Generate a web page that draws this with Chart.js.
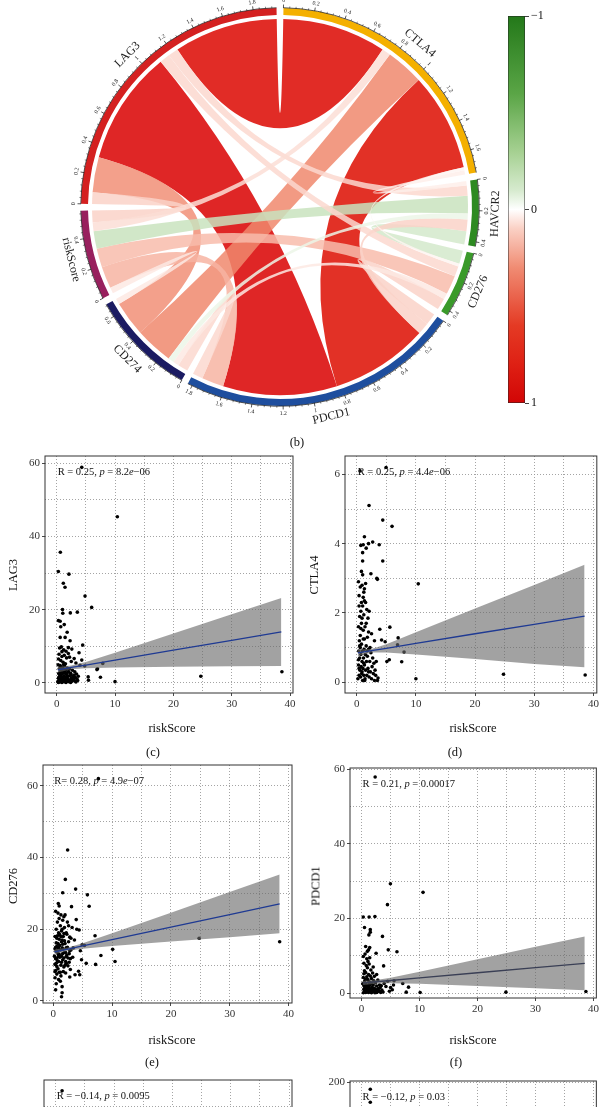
<!DOCTYPE html>
<html>
<head>
<meta charset="utf-8">
<script src="https://cdn.jsdelivr.net/npm/chart.js@4.4.0/dist/chart.umd.min.js"></script>
<style>
html, body { margin: 0; padding: 0; background: #fff; overflow: hidden; width: 601px; height: 1107px; }
body { position: relative; }
canvas { position: absolute; }
.t { position: absolute; font-family: "Liberation Serif", serif; font-size: 12.5px; color: #111; white-space: nowrap; transform: translate(-50%, -50%); }
</style>
</head>
<body>
<canvas id="chord" width="601" height="425" style="left:0px;top:0px"></canvas>
<canvas id="colorbar" width="80" height="420" style="left:490px;top:0px"></canvas>
<script>
Chart.defaults.font.family = '"Liberation Serif", "DejaVu Serif", serif';
Chart.defaults.color = "#333";

// ---------- chord diagram (correlations) ----------
const genes = ["CTLA4", "HAVCR2", "CD276", "PDCD1", "CD274", "riskScore", "LAG3"];
const geneColors = ["#F4B000", "#2E8A22", "#3A9A2A", "#1E4E9E", "#1B1B62", "#98205E", "#D42020"];
const linkFrom = ["LAG3", "LAG3", "CTLA4", "CTLA4", "LAG3", "LAG3", "LAG3", "LAG3", "CTLA4", "CTLA4", "CTLA4",
  "PDCD1", "PDCD1", "PDCD1", "PDCD1", "HAVCR2", "HAVCR2", "HAVCR2", "CD276", "CD276", "CD274"];
const linkTo = ["CTLA4", "PDCD1", "PDCD1", "CD274", "CD274", "riskScore", "HAVCR2", "CD276", "riskScore", "HAVCR2", "CD276",
  "CD274", "riskScore", "HAVCR2", "CD276", "riskScore", "CD276", "CD274", "riskScore", "CD274", "riskScore"];
const linkR = [0.71, 0.78, 0.67, 0.26, 0.24, 0.08, 0.07, 0.07, 0.06, 0.03, 0.02,
  0.07, 0.15, 0.08, 0.08, -0.12, -0.09, -0.04, 0.13, 0.04, 0.04];
const chordTickValues = [0, 0.2, 0.4, 0.6, 0.8, 1, 1.2, 1.4, 1.6, 1.8];
const colorbarTicks = [-1, 0, 1];

// ---------- scatter panels ----------
const xGridValues = [0, 5, 10, 15, 20, 25, 30, 35, 40];
const xLabelValues = [0, 10, 20, 30, 40];
const fitX = [0.2, 2.5, 5, 10, 20, 30, 38.5];

const lag3Points = [[4.3,58.9],[10.4,45.4],[0.63,35.7],[0.29,30.4],[2.1,29.7],[1.14,27.2],[1.43,26.1],[4.86,23.7],[6.0,20.6],[1.0,20.0],[1.05,19.0],[2.34,19.1],[3.54,19.3],[0.3,17.0],[0.6,16.8],[1.3,15.9],[0.7,15.3],[0.6,12.4],[1.45,12.4],[1.8,13.8],[2.3,11.5],[4.46,10.3],[3.83,8.2],[4.3,6.2],[4.0,4.8],[4.8,4.6],[7.0,3.8],[6.9,3.6],[7.9,5.3],[7.5,1.5],[5.4,1.6],[5.45,0.7],[10.0,0.3],[24.7,1.8],[38.6,3.0],
  [0.5,9.5],[0.8,9.8],[1.2,9.0],[1.6,8.6],[2.0,9.6],[2.6,9.2],[0.4,7.8],[0.9,7.2],[1.3,7.5],[1.7,6.8],[2.2,7.0],[3.0,6.6],[0.3,6.5],[0.7,6.1],[1.1,5.6],[1.5,5.2],[2.5,5.8],[3.3,5.4],[0.9,8.5],[2.0,8.0],
  [0.2,0.3],[0.3,1.2],[0.35,2.5],[0.4,0.6],[0.45,3.8],[0.5,1.8],[0.55,0.2],[0.6,2.9],[0.65,4.4],[0.7,1.0],[0.75,0.4],[0.8,2.2],[0.85,3.4],[0.9,0.8],[0.95,1.5],[1.0,4.1],[1.05,0.3],[1.1,2.6],[1.15,1.1],[1.2,3.2],[1.25,0.6],[1.3,1.9],[1.35,4.6],[1.4,0.9],[1.45,2.8],[1.5,0.2],[1.55,1.4],[1.6,3.6],[1.65,0.7],[1.7,2.3],[1.75,1.1],[1.8,4.0],[1.85,0.4],[1.9,1.7],[2.0,0.9],[2.05,3.0],[2.1,0.3],[2.2,1.9],[2.3,0.6],[2.4,2.6],[2.5,1.2],[2.6,0.4],[2.7,3.4],[2.8,1.6],[2.9,0.8],[3.0,2.1],[3.1,0.5],[3.2,1.4],[3.3,0.2],[3.4,2.4],[3.5,1.0],[3.6,0.6],[3.7,1.8],[0.25,4.9],[0.6,4.7],[1.2,4.9],[0.3,0.1],[0.9,0.1],[1.6,0.1],[2.4,0.1],
  [0.4,1.5],[0.7,3.0],[1.0,1.3],[1.3,3.6],[1.7,1.5],[2.2,3.8],[2.7,0.9],[3.1,3.0],[0.5,2.6],[1.1,0.6],[1.9,2.9],[2.5,2.1]];
const lag3Fit = [3.55, 4.2, 4.85, 6.2, 8.9, 11.6, 13.9];
const lag3Upper = [4.3, 4.7, 5.7, 8.2, 13.45, 18.7, 23.2];
const lag3Lower = [2.8, 3.7, 4.0, 4.2, 4.35, 4.5, 4.6];

const ctla4Points = [[4.96,6.2],[0.56,6.1],[2.08,5.1],[4.4,4.68],[5.97,4.5],[1.3,4.2],[0.7,3.95],[1.1,3.97],[2.0,4.0],[2.7,4.05],[3.8,3.97],[1.0,3.74],[1.6,3.87],[1.0,3.5],[4.4,3.5],[2.4,3.13],[3.4,3.0],[3.5,2.97],[10.4,2.84],[3.9,1.53],[5.6,1.59],[7.0,1.28],[6.9,1.08],[8.0,0.87],[4.2,1.22],[4.8,1.17],[7.6,0.59],[5.1,0.6],[5.5,0.65],[10.0,0.1],[24.8,0.23],[38.6,0.21],[3.5,0.05],[3.6,0.12],
  [0.3,2.9],[0.6,2.75],[0.9,2.8],[1.2,2.6],[1.5,2.85],[0.4,2.5],[0.8,2.3],[1.0,2.2],[1.3,2.35],[1.7,2.1],[2.1,2.05],[0.5,1.9],[0.9,1.85],[1.2,1.95],[1.6,1.7],[0.3,1.6],[0.7,1.55],[1.1,1.5],[1.4,1.6],[2.0,1.45],[2.5,1.4],[0.6,1.35],[1.8,1.3],[3.0,1.2],[1.3,2.7],[1.0,3.1],[0.8,3.2],
  [0.2,0.1],[0.3,0.5],[0.35,0.9],[0.4,0.2],[0.45,1.2],[0.5,0.7],[0.55,0.35],[0.6,1.0],[0.65,0.15],[0.7,0.8],[0.75,0.45],[0.8,1.1],[0.85,0.25],[0.9,0.6],[0.95,0.9],[1.0,0.05],[1.05,0.4],[1.1,1.25],[1.15,0.7],[1.2,0.2],[1.25,0.95],[1.3,0.5],[1.4,0.1],[1.45,0.8],[1.5,0.35],[1.6,1.05],[1.65,0.6],[1.7,0.2],[1.8,0.75],[1.9,0.4],[2.0,0.95],[2.1,0.15],[2.2,0.6],[2.3,0.3],[2.4,0.85],[2.5,0.1],[2.6,0.45],[2.7,0.7],[2.8,0.25],[2.9,0.55],[3.0,0.05],[3.1,0.35],[3.2,0.2],[3.3,0.6],[0.3,0.65],[0.5,1.05],[0.9,0.3],[1.35,0.05],[2.25,1.0],[1.75,0.9],
  [0.4,2.2],[0.7,2.05],[1.1,2.45],[1.5,2.3],[0.8,1.7],[1.3,1.25],[1.9,1.85],[0.4,0.4],[1.2,0.55],[2.0,0.3]];
const ctla4Fit = [0.85, 0.91, 0.98, 1.12, 1.40, 1.67, 1.91];
const ctla4Upper = [0.95, 0.96, 1.10, 1.44, 2.13, 2.81, 3.39];
const ctla4Lower = [0.75, 0.86, 0.86, 0.80, 0.67, 0.53, 0.43];

const cd276Points = [[7.67,62],[2.44,42.1],[2.05,33.9],[3.8,31.2],[1.6,30.2],[5.8,29.6],[6.1,26.4],[0.85,27.2],[3.1,26.3],[3.9,22.7],[7.1,18.2],[24.8,17.5],[38.5,16.5],[8.1,12.7],[10.1,14.4],[10.5,11.0],[7.2,10.2],[5.6,10.5],[4.3,8.3],[4.5,7.3],[3.7,7.3],[2.8,6.7],[1.5,4.0],[0.4,3.1],[1.5,2.3],[1.4,1.2],[0.5,4.8],[4.6,14],[4.4,19.8],[4.0,20.0],[4.9,15.7],[5.3,15.5],[3.6,17],[3.4,14.8],[4.8,11.5],
  [0.3,6.5],[0.4,8.5],[0.5,10.5],[0.6,12],[0.7,14],[0.8,9],[0.9,11],[1.0,13],[1.1,15.5],[1.2,8],[1.3,10],[1.4,12.5],[1.5,17],[1.6,11.5],[1.7,14.5],[1.8,9.5],[1.9,13.5],[2.0,16],[2.1,11],[2.2,19],[2.3,12.8],[2.4,15],[2.5,9.8],[2.6,21],[2.7,13.2],[2.8,17.8],[2.9,11.8],[3.0,14.2],[3.2,20.5],[0.3,18],[0.4,15],[0.5,20],[0.6,17.5],[0.7,22],[0.8,24.5],[0.9,19],[1.0,23],[1.1,18.5],[1.2,21],[1.3,24],[1.4,16.5],[1.5,20],[1.6,22.5],[1.7,18],[1.8,23.5],[1.9,20.5],[2.0,24],[2.1,13.5],[2.2,10.5],[2.4,22],[2.6,16.5],[2.8,14],
  [0.2,12.5],[0.3,10.2],[0.5,13.8],[0.6,7.5],[0.7,11.2],[0.9,6.0],[1.1,12.2],[1.3,7.0],[1.5,14.8],[1.7,8.2],[1.9,16.8],[2.1,7.8],[2.3,18.6],[2.5,12],[0.4,25],[1.0,26.5],[1.2,5.5],[0.8,16],[0.6,9.6],[1.4,19.5],[1.8,12],[2.0,10],[2.2,14.8],[2.7,10.8],[3.0,17.5],[3.3,12.2],[0.3,14.5],[0.5,16.2],[0.9,14.8],[1.6,13.2],[2.9,8.8],[1.0,8.0],[0.7,18.2],
  [0.4,11.8],[0.8,13.2],[1.2,14.2],[1.6,15.8],[0.6,15.2],[1.0,17.2],[1.4,10.8],[1.8,18.8],[2.2,12.4],[0.3,8.2],[0.9,12.6],[1.3,18.0]];
const cd276Fit = [13.67, 14.48, 15.35, 17.1, 20.6, 24.1, 27.1];
const cd276Upper = [14.33, 14.94, 16.1, 18.9, 24.6, 30.4, 35.3];
const cd276Lower = [13.0, 14.02, 14.6, 15.3, 16.6, 17.8, 18.9];

const pdcd1Points = [[2.34,57.9],[4.97,29.3],[10.6,27.0],[4.46,23.7],[0.29,20.4],[1.3,20.4],[2.3,20.5],[0.5,17.6],[1.5,17.0],[1.5,16.3],[1.26,15.6],[3.6,15.2],[1.4,12.2],[1.2,11.6],[2.5,10.7],[4.6,11.6],[6.1,11.1],[3.8,7.3],[7.1,2.6],[8.1,1.6],[7.7,0.27],[10.1,0.18],[24.9,0.27],[38.7,0.45],[5.5,2.2],[5.0,1.5],[4.2,1.8],[4.8,0.5],[5.3,0.9],[3.9,2.6],[4.5,3.2],[5.6,3.3],
  [0.3,9.8],[0.6,10.5],[0.9,9.2],[1.1,8.5],[0.4,8.0],[0.8,7.4],[1.0,6.8],[1.3,7.8],[1.6,6.2],[2.0,7.0],[0.5,6.0],[0.7,5.5],[1.2,5.0],[1.5,4.6],[1.9,5.4],[2.2,4.5],[2.6,5.0],[0.3,4.2],[0.6,3.8],[0.9,4.4],[1.1,3.5],[1.4,3.0],[1.7,3.9],[2.1,3.3],[2.4,2.8],[2.8,3.5],[3.1,2.2],[0.2,2.5],[0.4,2.0],[0.5,1.2],[0.6,0.5],[0.7,2.6],[0.8,1.5],[0.9,0.3],[1.0,2.0],[1.1,1.0],[1.2,0.2],[1.3,1.7],[1.4,0.6],[1.5,2.3],[1.6,1.1],[1.7,0.1],[1.8,1.6],[1.9,0.7],[2.0,2.2],[2.1,0.4],[2.2,1.3],[2.3,0.1],[2.5,0.9],[2.6,1.9],[2.7,0.3],[2.9,1.2],[3.0,0.5],[3.2,1.5],[3.3,0.2],[3.5,0.8],[3.7,0.3],[0.3,0.1],[0.5,3.1],[0.8,0.9],[1.0,3.7],[1.3,0.4],[1.8,2.7],[2.4,0.6],[0.4,5.2],[1.4,9.5],[1.0,11.2],[0.7,12.5],[2.8,1.0],[3.4,2.0],[1.2,1.3],[0.6,1.8],
  [0.4,1.0],[0.7,0.2],[1.0,0.6],[1.3,2.5],[1.6,0.4],[1.9,1.3],[2.2,0.7],[2.6,0.2],[0.5,0.3],[1.1,1.8]];
const pdcd1Fit = [2.73, 3.05, 3.39, 4.08, 5.46, 6.84, 8.0];
const pdcd1Upper = [3.25, 3.55, 4.15, 5.7, 9.1, 12.4, 15.2];
const pdcd1Lower = [2.2, 2.55, 2.63, 2.5, 1.9, 1.3, 0.8];

const cd274Points = [[1.1,75.3],[0.6,28],[1.4,19],[0.9,11],[2.2,7],[0.5,4],[1.8,2]];
const havcr2Points = [[1.5,193.4],[1.5,181.5],[0.8,120],[2.1,80],[0.6,40],[1.2,20],[3.0,10]];

const corrLabels = ["R = 0.25, p = 8.2e\u221206", "R = 0.25, p = 4.4e\u221206", "R= 0.28, p = 4.9e\u221207",
  "R = 0.21, p = 0.00017", "R = \u22120.14, p = 0.0095", "R = \u22120.12, p = 0.03"];
const panelGenes = ["LAG3", "CTLA4", "CD276", "PDCD1", "", ""];
const panelCaptions = ["(c)", "(d)", "(e)", "(f)", "", ""];

// ---------- colours ----------
const posStops = [[0, [255,255,255]], [0.1, [250,208,196]], [0.3, [240,140,115]], [0.6, [228,58,36]], [0.8, [222,32,20]], [1, [210,5,5]]];
const negStops = [[0, [255,255,255]], [0.1, [214,234,206]], [0.3, [165,208,145]], [0.6, [90,165,70]], [1, [35,120,25]]];

function corrRGB(r) {
  const stops = r >= 0 ? posStops : negStops;
  const t = Math.min(1, Math.abs(r));
  for (let i = 1; i < stops.length; i++) {
    if (t <= stops[i][0]) {
      const [t0, c0] = stops[i - 1], [t1, c1] = stops[i];
      const f = (t - t0) / (t1 - t0);
      return c0.map((c, j) => Math.round(c + (c1[j] - c) * f));
    }
  }
  return stops[stops.length - 1][1];
}

function chordFill(r, alpha) {
  // pre-compensate so the translucent ribbon looks like corrRGB on white
  const c = corrRGB(r).map(v => Math.max(0, Math.min(255, Math.round((v - (1 - alpha) * 255) / alpha))));
  return `rgba(${c[0]},${c[1]},${c[2]},${alpha})`;
}

// ---------- chord layout ----------
const n = genes.length;
const sectorSize = genes.map(g => {
  let s = 0;
  linkR.forEach((r, i) => { if (linkFrom[i] === g || linkTo[i] === g) s += Math.abs(r); });
  return s;
});
const totalSize = sectorSize.reduce((a, b) => a + b, 0);
const gapDeg = 2;
const gapValue = totalSize * gapDeg / (360 - n * gapDeg);
const ringData = [];
const ringColors = [];
genes.forEach((g, k) => {
  ringData.push(sectorSize[k], gapValue);
  ringColors.push(geneColors[k], "rgba(0,0,0,0)");
});

const linkEnds = linkR.map(() => ({}));
genes.forEach((g, k) => {
  const mine = [];
  linkR.forEach((r, i) => {
    const a = genes.indexOf(linkFrom[i]), b = genes.indexOf(linkTo[i]);
    if (a === k) mine.push({ i, other: b });
    else if (b === k) mine.push({ i, other: a });
  });
  mine.sort((p, q) => ((k - p.other + n) % n) - ((k - q.other + n) % n));
  let pos = 0;
  mine.forEach(m => {
    const w = Math.abs(linkR[m.i]);
    linkEnds[m.i][k] = [pos, pos + w];
    pos += w;
  });
});

function tangentText(ctx, text, cx, cy, r, ang) {
  const x = cx + r * Math.cos(ang), y = cy + r * Math.sin(ang);
  let rot = ang + Math.PI / 2;
  rot = ((rot % (2 * Math.PI)) + 2 * Math.PI) % (2 * Math.PI);
  if (rot > Math.PI / 2 && rot < 3 * Math.PI / 2) rot -= Math.PI;
  ctx.save();
  ctx.translate(x, y);
  ctx.rotate(rot);
  ctx.textAlign = "center";
  ctx.textBaseline = "middle";
  ctx.fillText(text, 0, 0);
  ctx.restore();
}

const chordPlugin = {
  id: "chords",
  afterDatasetsDraw(chart) {
    const ctx = chart.ctx;
    const arcs = chart.getDatasetMeta(0).data;
    const cx = arcs[0].x, cy = arcs[0].y;
    const R = arcs[0].outerRadius, rc = arcs[0].innerRadius - 4;
    const angleAt = (k, v) => {
      const a = arcs[2 * k];
      return a.startAngle + v / sectorSize[k] * (a.endAngle - a.startAngle);
    };

    // ribbons, widest first
    const order = linkR.map((r, i) => i).sort((p, q) => Math.abs(linkR[q]) - Math.abs(linkR[p]));
    order.forEach(i => {
      const a = genes.indexOf(linkFrom[i]), b = genes.indexOf(linkTo[i]);
      const a1 = angleAt(a, linkEnds[i][a][0]), a2 = angleAt(a, linkEnds[i][a][1]);
      const b1 = angleAt(b, linkEnds[i][b][0]), b2 = angleAt(b, linkEnds[i][b][1]);
      ctx.save();
      ctx.fillStyle = chordFill(linkR[i], 0.85);
      ctx.beginPath();
      ctx.arc(cx, cy, rc, a1, a2);
      ctx.quadraticCurveTo(cx, cy, cx + rc * Math.cos(b1), cy + rc * Math.sin(b1));
      ctx.arc(cx, cy, rc, b1, b2);
      ctx.quadraticCurveTo(cx, cy, cx + rc * Math.cos(a1), cy + rc * Math.sin(a1));
      ctx.closePath();
      ctx.fill();
      ctx.restore();
    });

    // axes around each sector
    ctx.save();
    ctx.strokeStyle = "#111";
    ctx.fillStyle = "#222";
    genes.forEach((g, k) => {
      const a = arcs[2 * k];
      ctx.lineWidth = 0.7;
      ctx.beginPath();
      ctx.arc(cx, cy, R + 0.3, a.startAngle, a.endAngle);
      ctx.stroke();
      const majors = chordTickValues.filter(v => v <= sectorSize[k] + 1e-9);
      // minor ticks: four between majors
      ctx.lineWidth = 0.5;
      for (let m = 0; m < majors.length; m++) {
        for (let s = 1; s < 5; s++) {
          const v = majors[m] + s * 0.04;
          if (v > sectorSize[k]) break;
          const an = angleAt(k, v);
          ctx.beginPath();
          ctx.moveTo(cx + R * Math.cos(an), cy + R * Math.sin(an));
          ctx.lineTo(cx + (R + 1.8) * Math.cos(an), cy + (R + 1.8) * Math.sin(an));
          ctx.stroke();
        }
      }
      ctx.lineWidth = 0.7;
      ctx.font = '5.8px "Liberation Serif", serif';
      majors.forEach(v => {
        const an = angleAt(k, v);
        ctx.beginPath();
        ctx.moveTo(cx + R * Math.cos(an), cy + R * Math.sin(an));
        ctx.lineTo(cx + (R + 3.5) * Math.cos(an), cy + (R + 3.5) * Math.sin(an));
        ctx.stroke();
        tangentText(ctx, String(v), cx, cy, R + 7.5, an);
      });
      ctx.font = '12px "Liberation Serif", serif';
      tangentText(ctx, g, cx, cy, R + 16.5, (a.startAngle + a.endAngle) / 2);
    });
    ctx.restore();
  }
};

new Chart(document.getElementById("chord"), {
  type: "doughnut",
  data: {
    labels: ringData.map((v, i) => i % 2 ? "" : genes[i / 2]),
    datasets: [{ data: ringData, backgroundColor: ringColors, borderWidth: 0, hoverOffset: 0 }]
  },
  options: {
    responsive: false,
    animation: false,
    events: [],
    rotation: gapDeg / 2,
    radius: 199,
    cutout: (192 / 199 * 100) + "%",
    layout: { padding: { left: 81, right: 122, top: 8, bottom: 19 } },
    plugins: { legend: { display: false }, tooltip: { enabled: false } }
  },
  plugins: [chordPlugin]
});

// ---------- colour bar ----------
new Chart(document.getElementById("colorbar"), {
  type: "bar",
  data: {
    labels: [""],
    datasets: [{
      data: [[-1, 1]],
      backgroundColor: (c) => {
        const area = c.chart.chartArea;
        if (!area) return "#ccc";
        const g = c.chart.ctx.createLinearGradient(0, area.top, 0, area.bottom);
        for (let s = 0; s <= 40; s++) {
          const r = -1 + s / 20;
          const rgb = corrRGB(r);
          g.addColorStop(s / 40, `rgb(${rgb[0]},${rgb[1]},${rgb[2]})`);
        }
        return g;
      },
      borderColor: "#222",
      borderWidth: 0.8,
      borderSkipped: false,
      barPercentage: 1,
      categoryPercentage: 1
    }]
  },
  options: {
    responsive: false,
    animation: false,
    events: [],
    layout: { padding: { left: 18, right: 0, top: 16, bottom: 17 } },
    plugins: { legend: { display: false }, tooltip: { enabled: false } },
    scales: {
      x: { display: false },
      y: {
        position: "right",
        min: -1, max: 1, reverse: true,
        afterBuildTicks: (axis) => { axis.ticks = colorbarTicks.map(v => ({ value: v })); },
        afterFit: (axis) => { axis.width = 45; },
        ticks: { padding: 2, color: "#111", font: { size: 12 }, callback: (v) => v < 0 ? "\u2212" + (-v) : String(v) },
        grid: { drawOnChartArea: false, tickLength: 4, color: "#111", lineWidth: 0.8 },
        border: { display: false }
      }
    }
  }
});

// ---------- text helpers ----------
function addText(txt, x, y, rotate, size) {
  const d = document.createElement("div");
  d.className = "t";
  d.textContent = txt;
  d.style.left = x + "px";
  d.style.top = y + "px";
  if (size) d.style.fontSize = size + "px";
  if (rotate) d.style.transform = "translate(-50%, -50%) rotate(-90deg)";
  document.body.appendChild(d);
}

function drawCorrLabel(ctx, text, x, y) {
  // italic p and e, as in the ggpubr label
  const parts = [];
  for (let i = 0; i < text.length; i++) {
    const ch = text[i];
    const italic = (ch === "p" && text[i - 1] === " ") || (ch === "e" && /[0-9]/.test(text[i - 1] || ""));
    if (parts.length && parts[parts.length - 1].italic === italic) parts[parts.length - 1].s += ch;
    else parts.push({ s: ch, italic });
  }
  ctx.save();
  ctx.fillStyle = "#111";
  ctx.textBaseline = "middle";
  ctx.textAlign = "left";
  parts.forEach(p => {
    ctx.font = (p.italic ? "italic " : "") + '10.5px "Liberation Serif", serif';
    ctx.fillText(p.s, x, y);
    x += ctx.measureText(p.s).width;
  });
  ctx.restore();
}

const panelPlugin = {
  id: "panelBox",
  afterDatasetsDraw(chart, args, opts) {
    const { ctx, chartArea: a } = chart;
    ctx.save();
    ctx.strokeStyle = "#333";
    ctx.lineWidth = 1;
    ctx.strokeRect(a.left, a.top, a.right - a.left, a.bottom - a.top);
    ctx.restore();
    drawCorrLabel(ctx, opts.label, chart.scales.x.getPixelForValue(0) + 1, a.top + 16.5);
  }
};

function makePanel(p) {
  const cv = document.createElement("canvas");
  cv.width = p.w; cv.height = p.h;
  cv.style.left = p.left + "px"; cv.style.top = p.top + "px";
  document.body.appendChild(cv);
  const pts = p.points.map(d => ({ x: d[0], y: d[1] }));
  const datasets = [];
  if (p.fit) {
    datasets.push({ type: "line", data: fitX.map((x, i) => ({ x, y: p.fit[i] })), borderColor: p.lineColor, borderWidth: 1.3, pointRadius: 0, fill: false, tension: 0 });
    datasets.push({ type: "line", data: fitX.map((x, i) => ({ x, y: p.upper[i] })), borderColor: "rgba(0,0,0,0)", borderWidth: 0, pointRadius: 0, backgroundColor: "rgba(105,105,105,0.62)", fill: "+1", tension: 0 });
    datasets.push({ type: "line", data: fitX.map((x, i) => ({ x, y: p.lower[i] })), borderColor: "rgba(0,0,0,0)", borderWidth: 0, pointRadius: 0, fill: false, tension: 0 });
  }
  datasets.push({ data: pts, pointRadius: 1.8, backgroundColor: "#000", borderWidth: 0 });
  const gridColor = "#9a9a9a";
  new Chart(cv, {
    type: "scatter",
    data: { datasets },
    options: {
      responsive: false,
      animation: false,
      events: [],
      layout: { padding: { left: 0, right: p.padRight, top: p.padTop, bottom: 0 } },
      plugins: { legend: { display: false }, tooltip: { enabled: false }, panelBox: { label: p.label } },
      scales: {
        x: {
          type: "linear", min: p.xMin, max: p.xMax,
          afterBuildTicks: (axis) => { axis.ticks = xGridValues.map(v => ({ value: v })); },
          afterFit: (axis) => { axis.height = p.xH; },
          ticks: { autoSkip: false, maxRotation: 0, padding: 2, color: "#333", font: { size: 11 },
            callback: (v) => xLabelValues.includes(v) ? String(v) : "" },
          grid: { color: gridColor, lineWidth: 0.9, tickLength: 3, tickWidth: 0.9,
            tickColor: (c) => c.tick && xLabelValues.includes(c.tick.value) ? "#333" : "rgba(0,0,0,0)" },
          border: { display: false, dash: [1, 2] }
        },
        y: {
          type: "linear", min: p.yMin, max: p.yMax,
          afterBuildTicks: (axis) => { axis.ticks = p.yGrid.map(v => ({ value: v })); },
          afterFit: (axis) => { axis.width = p.yW; },
          ticks: { autoSkip: false, padding: 2, color: "#333", font: { size: 11 },
            callback: (v) => p.yLabels.includes(v) ? String(v) : "" },
          grid: { color: gridColor, lineWidth: 0.9, tickLength: 3, tickWidth: 0.9,
            tickColor: (c) => c.tick && p.yLabels.includes(c.tick.value) ? "#333" : "rgba(0,0,0,0)" },
          border: { display: false, dash: [1, 2] }
        }
      }
    },
    plugins: [panelPlugin]
  });
}

const grid60 = [0, 10, 20, 30, 40, 50, 60];
const labels60 = [0, 20, 40, 60];

makePanel({ left: 0, top: 440, w: 300, h: 290, padTop: 16, padRight: 7, yW: 45, xH: 37,
  xMin: -2.0, xMax: 40.5, yMin: -2.8, yMax: 62, yGrid: grid60, yLabels: labels60,
  points: lag3Points, fit: lag3Fit, upper: lag3Upper, lower: lag3Lower, lineColor: "#1F3A93", label: corrLabels[0] });
makePanel({ left: 300, top: 440, w: 301, h: 290, padTop: 16, padRight: 4, yW: 45, xH: 37,
  xMin: -1.98, xMax: 40.57, yMin: -0.31, yMax: 6.53, yGrid: [0, 1, 2, 3, 4, 5, 6], yLabels: [0, 2, 4, 6],
  points: ctla4Points, fit: ctla4Fit, upper: ctla4Upper, lower: ctla4Lower, lineColor: "#1F3A93", label: corrLabels[1] });
makePanel({ left: 0, top: 750, w: 300, h: 290, padTop: 15, padRight: 8, yW: 43, xH: 37,
  xMin: -1.75, xMax: 40.6, yMin: -0.56, yMax: 65.8, yGrid: grid60, yLabels: labels60,
  points: cd276Points, fit: cd276Fit, upper: cd276Upper, lower: cd276Lower, lineColor: "#1F3A93", label: corrLabels[2] });
makePanel({ left: 300, top: 750, w: 301, h: 290, padTop: 18, padRight: 3, yW: 50, xH: 42,
  xMin: -2.0, xMax: 40.5, yMin: -1.3, yMax: 60.3, yGrid: grid60, yLabels: labels60,
  points: pdcd1Points, fit: pdcd1Fit, upper: pdcd1Upper, lower: pdcd1Lower, lineColor: "#3A3F55", label: corrLabels[3] });
makePanel({ left: 0, top: 1060, w: 300, h: 290, padTop: 20, padRight: 8, yW: 44, xH: 32,
  xMin: -2.0, xMax: 40.5, yMin: -3, yMax: 79, yGrid: [0, 10, 20, 30, 40, 50, 60, 70], yLabels: labels60,
  points: cd274Points, label: corrLabels[4] });
makePanel({ left: 300, top: 1060, w: 301, h: 290, padTop: 21, padRight: 3, yW: 50, xH: 39,
  xMin: -2.0, xMax: 40.5, yMin: -10, yMax: 201, yGrid: [0, 25, 50, 75, 100, 125, 150, 175, 200], yLabels: [0, 50, 100, 150, 200],
  points: havcr2Points, label: corrLabels[5] });

// titles and captions
addText("(b)", 297, 442);
addText(panelGenes[0], 13, 575, true);
addText(panelGenes[1], 314, 575, true);
addText(panelGenes[2], 13, 886, true);
addText(panelGenes[3], 316, 886, true);
addText("riskScore", 172, 728);
addText("riskScore", 473, 728);
addText("riskScore", 172, 1040);
addText("riskScore", 473, 1040);
addText(panelCaptions[0], 153, 752);
addText(panelCaptions[1], 455, 752);
addText(panelCaptions[2], 152, 1062);
addText(panelCaptions[3], 456, 1062);
</script>
</body>
</html>
